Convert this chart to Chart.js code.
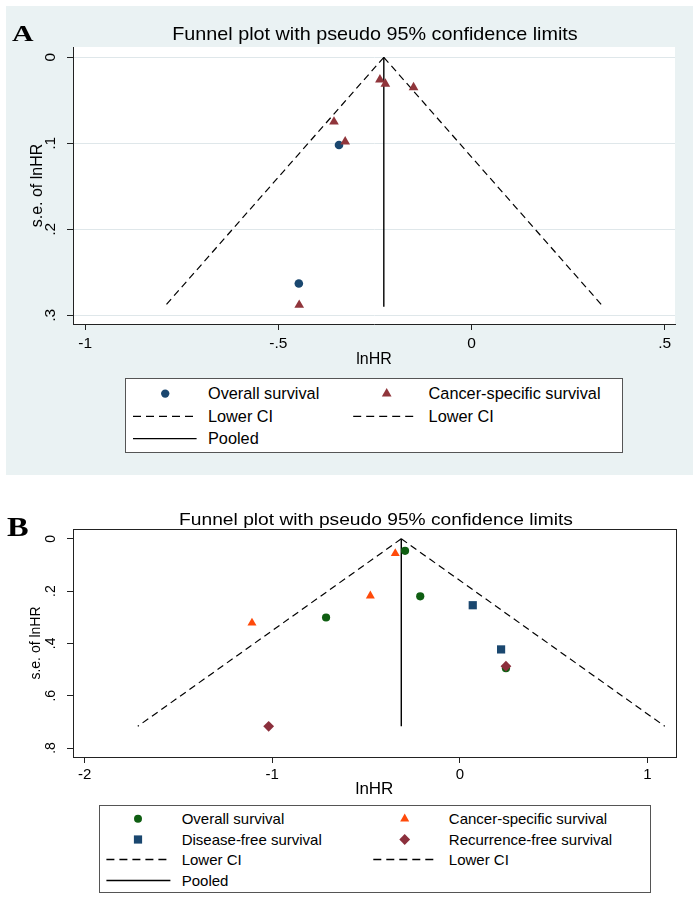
<!DOCTYPE html>
<html lang="en">
<head>
<meta charset="utf-8">
<title>Funnel plots</title>
<script src="https://cdn.jsdelivr.net/npm/chart.js@4.4.1/dist/chart.umd.min.js"></script>
<style>
    body { margin: 0; background: #fff; }
    #page { position: relative; width: 700px; height: 901px; overflow: hidden; font-family: 'Liberation Sans', Arial, sans-serif; color: #000; }
    #page > * { position: absolute; }
    #bgA { left: 6px; top: 6px; width: 687px; height: 469px; background: #eaf2f3; }
    .tag { font-family: 'Liberation Serif', 'Times New Roman', serif; font-weight: bold; line-height: 1; transform-origin: 0 50%; white-space: nowrap; }
    .title { line-height: 1; white-space: nowrap; }
    .legend { background: #fff; outline: 1px solid #555; outline-offset: -1px; }
    .legend span { position: absolute; line-height: 1; white-space: nowrap; transform: translateY(-50%); }
    .legend svg { position: absolute; left: 0; top: 0; }
</style>
</head>
<body>
<div id="page">
    <div id="bgA"></div>
    <canvas id="chartA" width="700" height="372" style="left:0;top:0"></canvas>
    <div class="tag" style="left:11.7px;top:33.8px;font-size:23.7px;transform:translateY(-50%) scaleX(1.26)">A</div>
    <div class="title" style="left:375px;top:33.5px;font-size:18.6px;transform:translate(-50%,-50%) scaleX(1.063)">Funnel plot with pseudo 95% confidence limits</div>
    <div class="legend" id="legendA" style="left:125.3px;top:377.7px;width:497.7px;height:75px"></div>

    <canvas id="chartB" width="700" height="321" style="left:0;top:480px"></canvas>
    <div class="tag" style="left:6.7px;top:527.3px;font-size:28.2px;transform:translateY(-50%) scaleX(1.15)">B</div>
    <div class="title" style="left:375.5px;top:519.5px;font-size:16px;transform:translate(-50%,-50%) scaleX(1.2)">Funnel plot with pseudo 95% confidence limits</div>
    <div class="legend" id="legendB" style="left:99.3px;top:804.5px;width:551.7px;height:88px"></div>
</div>

<script>
// =======================================================
// DADOS
// =======================================================

// Painel A
const seriesA = ['Overall survival', 'Cancer-specific survival'];
const osA_lnhr = [-0.343, -0.447];
const osA_se = [0.102, 0.263];
const cssA_lnhr = [-0.237, -0.223, -0.150, -0.356, -0.327, -0.446];
const cssA_se = [0.026, 0.031, 0.035, 0.075, 0.098, 0.288];
const funnelA_se = [0, 0.29];          // apex, bottom of the funnel
const pooledA = [-0.227, -0.227];
const lowerA = [-0.227, -0.795];
const upperA = [-0.227, 0.341];
const xTicksA = [-1, -0.5, 0, 0.5];
const xLabelsA = ['-1', '-.5', '0', '.5'];
const yTicksA = [0, 0.1, 0.2, 0.3];
const yLabelsA = ['0', '.1', '.2', '.3'];

// Painel B
const seriesB = ['Overall survival', 'Cancer-specific survival', 'Disease-free survival', 'Recurrence-free survival'];
const osB_lnhr = [-0.292, -0.211, -0.713, 0.246];
const osB_se = [0.046, 0.220, 0.301, 0.495];
const cssB_lnhr = [-0.344, -0.477, -1.108];
const cssB_se = [0.056, 0.218, 0.322];
const dfsB_lnhr = [0.069, 0.220];
const dfsB_se = [0.254, 0.423];
const rfsB_lnhr = [0.246, -1.019];
const rfsB_se = [0.487, 0.717];
const funnelB_se = [0, 0.717];
const pooledB = [-0.312, -0.312];
const lowerB = [-0.312, -1.717];
const upperB = [-0.312, 1.093];
const xTicksB = [-2, -1, 0, 1];
const xLabelsB = ['-2', '-1', '0', '1'];
const yTicksB = [0, 0.2, 0.4, 0.6, 0.8];
const yLabelsB = ['0', '.2', '.4', '.6', '.8'];

const lineLabels = ['Lower CI', 'Lower CI', 'Pooled'];

// =======================================================
// HELPERS
// =======================================================
Chart.defaults.font.family = "'Liberation Sans', Arial, sans-serif";
Chart.defaults.color = '#000';

const AXIS = '#222';

// fundo branco da região do gráfico + moldura opcional
const plotRegion = {
    id: 'plotRegion',
    beforeDraw(chart, args, opts) {
        if (!opts.fill) return;
        const { ctx, chartArea: a } = chart;
        ctx.save();
        ctx.fillStyle = opts.fill;
        ctx.fillRect(a.left, a.top, a.right - a.left, a.bottom - a.top);
        ctx.restore();
    },
    afterDraw(chart, args, opts) {
        if (!opts.frame) return;
        const { ctx, chartArea: a } = chart;
        ctx.save();
        ctx.strokeStyle = opts.frame;
        ctx.lineWidth = 1;
        ctx.strokeRect(Math.round(a.left) + 0.5, Math.round(a.top) + 0.5, Math.round(a.right - a.left), Math.round(a.bottom - a.top));
        ctx.restore();
    }
};

function pairs(xs, ys) {
    return xs.map((x, i) => ({ x: x, y: ys[i] }));
}

function markerSet(label, xs, ys, style, color, radius, order) {
    return {
        label: label, data: pairs(xs, ys), showLine: false,
        pointStyle: style, pointRadius: radius, pointHoverRadius: radius,
        backgroundColor: color, borderColor: color, pointBorderWidth: 0, order: order
    };
}

function lineSet(label, xs, ys, dash, width) {
    return {
        label: label, data: pairs(xs, ys), showLine: true, pointRadius: 0,
        borderColor: '#000', borderWidth: width, borderDash: dash, fill: false, order: 10
    };
}

function funnelChart(id, datasets, L) {
    return new Chart(document.getElementById(id), {
        type: 'scatter',
        data: { datasets: datasets },
        options: {
            responsive: false,
            animation: false,
            events: [],
            layout: { padding: L.padding },
            plugins: {
                legend: { display: false },
                tooltip: { enabled: false },
                plotRegion: { fill: L.fill, frame: L.frame }
            },
            scales: {
                x: {
                    type: 'linear', position: 'bottom', min: L.xMin, max: L.xMax,
                    afterBuildTicks: s => { s.ticks = L.xTicks.map(v => ({ value: v })); },
                    afterFit: s => { s.height = L.xBox; },
                    ticks: {
                        callback: (v, i) => L.xLabels[i], autoSkip: false, maxRotation: 0,
                        font: { size: L.xTickFont }, padding: L.xTickPad, color: '#000'
                    },
                    grid: { drawOnChartArea: false, tickLength: 6, color: AXIS, tickColor: AXIS },
                    border: { display: true, color: AXIS, width: 1 },
                    title: { display: true, text: 'lnHR', font: { size: L.xTitleFont }, padding: { top: 0, bottom: L.xTitlePad }, color: '#000' }
                },
                y: {
                    type: 'linear', position: 'left', reverse: true, min: L.yMin, max: L.yMax,
                    afterBuildTicks: s => { s.ticks = L.yTicks.map(v => ({ value: v })); },
                    afterFit: s => { s.width = L.yBox; },
                    ticks: {
                        callback: (v, i) => L.yLabels[i], autoSkip: false, minRotation: 90, maxRotation: 90,
                        crossAlign: 'center', font: { size: L.yTickFont }, padding: L.yTickPad, color: '#000'
                    },
                    grid: { drawOnChartArea: L.yGrid, tickLength: 6, color: L.gridColor, tickColor: AXIS },
                    border: { display: true, color: AXIS, width: 1 },
                    title: { display: true, text: 's.e. of lnHR', font: { size: L.yTitleFont }, padding: { top: L.yTitlePad, bottom: 0 }, color: '#000' }
                }
            }
        },
        plugins: [plotRegion]
    });
}

// legenda no estilo do Stata, montada a partir dos datasets
const NS = 'http://www.w3.org/2000/svg';
function svgEl(tag, attrs) {
    const e = document.createElementNS(NS, tag);
    for (const k in attrs) e.setAttribute(k, attrs[k]);
    return e;
}

function symbol(style, cx, cy, r, color) {
    if (style === 'circle') return svgEl('circle', { cx: cx, cy: cy, r: r, fill: color });
    if (style === 'triangle') {
        const pts = [[cx, cy - r], [cx + r * 0.866, cy + r / 2], [cx - r * 0.866, cy + r / 2]];
        return svgEl('polygon', { points: pts.map(p => p.join(',')).join(' '), fill: color });
    }
    if (style === 'rect') {
        const s = r * Math.SQRT1_2;
        return svgEl('rect', { x: cx - s, y: cy - s, width: 2 * s, height: 2 * s, fill: color });
    }
    return svgEl('polygon', { points: `${cx},${cy - r} ${cx + r},${cy} ${cx},${cy + r} ${cx - r},${cy}`, fill: color });
}

function buildLegend(boxId, datasets, L) {
    const box = document.getElementById(boxId);
    const svg = svgEl('svg', { width: box.offsetWidth, height: box.offsetHeight });
    box.appendChild(svg);
    datasets.forEach((ds, i) => {
        const row = Math.floor(i / 2), col = i % 2;
        const y = L.rows[row];
        if (ds.showLine) {
            const [x1, x2] = L.lines[col];
            const attrs = { x1: x1, x2: x2, y1: y, y2: y, stroke: '#000', 'stroke-width': 1.3 };
            if (ds.borderDash.length) attrs['stroke-dasharray'] = '8 5';
            svg.appendChild(svgEl('line', attrs));
        } else {
            svg.appendChild(symbol(ds.pointStyle, L.marks[col], y, L.symR[ds.pointStyle], ds.backgroundColor));
        }
        const span = document.createElement('span');
        span.textContent = ds.label;
        span.style.left = L.texts[col] + 'px';
        span.style.top = y + 'px';
        span.style.fontSize = L.font + 'px';
        box.appendChild(span);
    });
}

// =======================================================
// PAINEL A
// =======================================================
const NAVY = '#1a476f';
const MAROON = '#90353b';
const DASH = [7, 4.5];

const datasetsA = [
    markerSet(seriesA[0], osA_lnhr, osA_se, 'circle', NAVY, 4.3, 2),
    markerSet(seriesA[1], cssA_lnhr, cssA_se, 'triangle', MAROON, 5.6, 1),
    lineSet(lineLabels[0], lowerA, funnelA_se, DASH, 1.2),
    lineSet(lineLabels[1], upperA, funnelA_se, DASH, 1.2),
    lineSet(lineLabels[2], pooledA, funnelA_se, [], 1.4)
];

funnelChart('chartA', datasetsA, {
    padding: { left: 0, top: 47, right: 25, bottom: 0 },
    fill: '#fff', frame: null,
    xMin: -1.0316, xMax: 0.5268, xTicks: xTicksA, xLabels: xLabelsA,
    yMin: -0.01198, yMax: 0.3101, yTicks: yTicksA, yLabels: yLabelsA,
    xBox: 372 - 324, yBox: 73,
    xTickFont: 15.5, xTickPad: 4.2, xTitleFont: 16, xTitlePad: 2.4,
    yTickFont: 15.5, yTickPad: 10.2, yTitleFont: 16, yTitlePad: 27.9,
    yGrid: true, gridColor: '#dfe7ea'
});

buildLegend('legendA', datasetsA, {
    rows: [15.6, 38.3, 60.6],
    marks: [40.2, 261.7],
    texts: [82.7, 303.3],
    lines: [[8, 71.6], [228.2, 292.7]],
    symR: { circle: 4.2, triangle: 5.6 },
    font: 16.3
});

// =======================================================
// PAINEL B
// =======================================================
const GREEN = '#0f5e12';
const ORANGE = '#ff4a0a';
const BLUE = '#1a476f';
const WINE = '#8b2f3c';

const datasetsB = [
    markerSet(seriesB[0], osB_lnhr, osB_se, 'circle', GREEN, 4.1, 4),
    markerSet(seriesB[1], cssB_lnhr, cssB_se, 'triangle', ORANGE, 5.2, 3),
    markerSet(seriesB[2], dfsB_lnhr, dfsB_se, 'rect', BLUE, 5.8, 2),
    markerSet(seriesB[3], rfsB_lnhr, rfsB_se, 'rectRot', WINE, 5.4, 1),
    lineSet(lineLabels[0], lowerB, funnelB_se, DASH, 1.2),
    lineSet(lineLabels[1], upperB, funnelB_se, DASH, 1.2),
    lineSet(lineLabels[2], pooledB, funnelB_se, [], 1.4)
];

funnelChart('chartB', datasetsB, {
    padding: { left: 0, top: 49, right: 24, bottom: 0 },
    fill: '#fff', frame: AXIS,
    xMin: -2.0622, xMax: 1.1526, xTicks: xTicksB, xLabels: xLabelsB,
    yMin: -0.0375, yMax: 0.8344, yTicks: yTicksB, yLabels: yLabelsB,
    xBox: 321 - 277, yBox: 73,
    xTickFont: 15, xTickPad: 2.7, xTitleFont: 17, xTitlePad: 1.8,
    yTickFont: 14, yTickPad: 10.2, yTitleFont: 14, yTitlePad: 28.1,
    yGrid: false, gridColor: AXIS
});

buildLegend('legendB', datasetsB, {
    rows: [13.8, 34.5, 54.5, 75.5],
    marks: [39, 305.7],
    texts: [82.4, 349.5],
    lines: [[7.4, 71.4], [274.3, 336.9]],
    symR: { circle: 4, triangle: 5.2, rect: 5.8, rectRot: 5.4 },
    font: 15
});
</script>
</body>
</html>
